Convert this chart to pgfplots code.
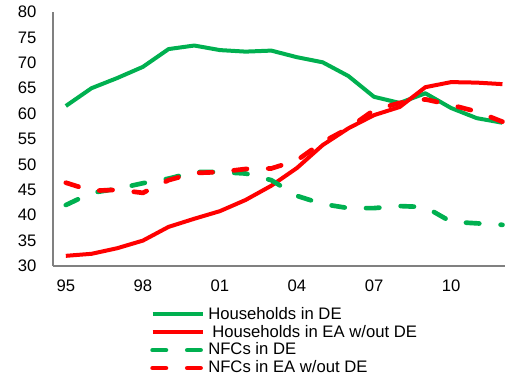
\documentclass[border=0pt]{standalone}
\usepackage{fontspec}
\setmainfont{Liberation Sans}
\usepackage{pgfplots}
\pgfplotsset{compat=1.18}
\definecolor{cgreen}{HTML}{00B050}
\definecolor{cred}{HTML}{FF0000}
\definecolor{axgray}{HTML}{808080}
\begin{document}
\fontsize{12.5}{14}\selectfont
\begin{tikzpicture}
\begin{axis}[
  scale only axis,
  width=339pt, height=190.5pt,
  xmin=1994.5, xmax=2012.1,
  ymin=30, ymax=80,
  ytick={30,35,...,80},
  xtick={1995,1998,2001,2004,2007,2010},
  xticklabels={95,98,01,04,07,10},
  axis x line*=bottom, axis y line*=left,
  axis line style={axgray, line width=1.3pt},
  x axis line style={-}, y axis line style={-},
  major tick length=0pt,
  /pgf/number format/assume math mode=true,
  tick label style={font=\fontsize{12.5}{14}\selectfont},
  yticklabel style={xshift=-8pt},
  xticklabel style={yshift=-6pt},
  clip=false,
  legend style={at={(0.2146,-0.15)}, anchor=north west, draw=none, fill=none,
    inner sep=0pt, row sep=-1.5pt, font=\fontsize{12.5}{14}\selectfont,
    /tikz/every even column/.append style={column sep=3pt}},
  legend cell align=left,
  legend image code/.code={\draw[#1] (0pt,0pt) -- (38pt,0pt);},
]
\addplot[cgreen, line width=3pt, line join=round] coordinates {
(1995,61.5)(1996,65)(1997,67)(1998,69.2)(1999,72.7)(2000,73.4)(2001,72.5)(2002,72.2)(2003,72.4)(2004,71.1)(2005,70.1)(2006,67.4)(2007,63.3)(2008,62.1)(2009,64)(2010,61.1)(2011,59.1)(2012,58.2)};
\addlegendentry{Households in DE}
\addplot[cred, line width=3pt, line join=round] coordinates {
(1995,32)(1996,32.4)(1997,33.5)(1998,35)(1999,37.7)(2000,39.3)(2001,40.8)(2002,43)(2003,45.8)(2004,49.3)(2005,53.8)(2006,57.1)(2007,59.7)(2008,61.3)(2009,65.2)(2010,66.2)(2011,66.1)(2012,65.8)};
\addlegendentry{\hspace{3pt}Households in EA w/out DE}
\addplot[cgreen, line width=3.5pt, line cap=round, dash pattern=on 10pt off 16pt] coordinates {
(1995,42)(1996,44.4)(1997,45.2)(1998,46.3)(1999,47.2)(2000,48.5)(2001,48.5)(2002,48.2)(2003,46.9)(2004,43.8)(2005,42.2)(2006,41.4)(2007,41.4)(2008,41.8)(2009,41.6)(2010,38.7)(2011,38.4)(2012,38.1)};
\addlegendentry{NFCs in DE}
\addplot[cred, line width=3.5pt, line cap=round, dash pattern=on 10pt off 16pt] coordinates {
(1995,46.4)(1996,44.8)(1997,45)(1998,44.4)(1999,46.9)(2000,48.3)(2001,48.5)(2002,49.1)(2003,49.2)(2004,50.8)(2005,54.4)(2006,57.1)(2007,60.7)(2008,62.1)(2009,62.8)(2010,61.7)(2011,60.4)(2012,58.4)};
\addlegendentry{NFCs in EA w/out DE}
\end{axis}
\pgfresetboundingbox
\path (-39.75pt,-86.25pt) rectangle (339pt,199.5pt);
\end{tikzpicture}
\end{document}
